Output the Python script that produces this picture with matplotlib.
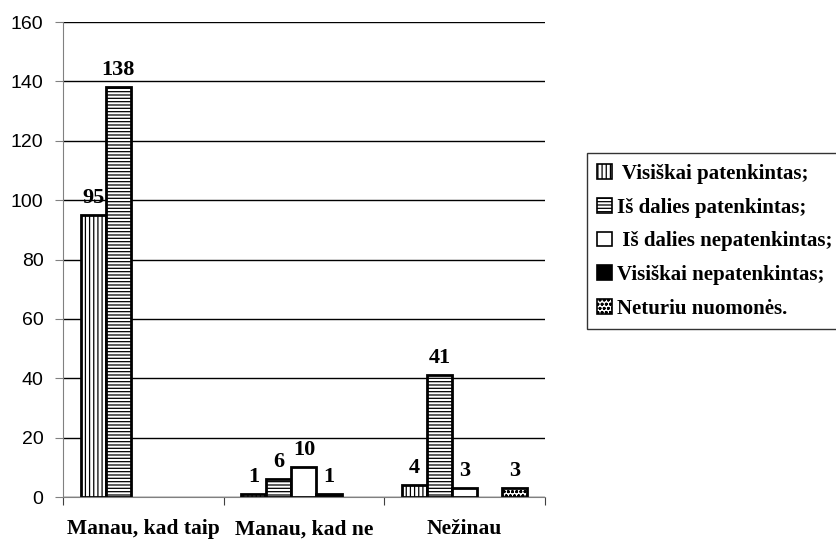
import numpy as np
import matplotlib
matplotlib.use("Agg")
import matplotlib.pyplot as plt
from matplotlib.patches import Patch

categories = ["Manau, kad taip", "Manau, kad ne", "Nežinau"]
series_names = [" Visiškai patenkintas;", "Iš dalies patenkintas;",
                " Iš dalies nepatenkintas;", "Visiškai nepatenkintas;",
                "Neturiu nuomonės."]
visiskai_patenkintas = [95, 1, 4]
is_dalies_patenkintas = [138, 6, 41]
is_dalies_nepatenkintas = [0, 10, 3]
visiskai_nepatenkintas = [0, 1, 0]
neturiu_nuomones = [0, 0, 3]

series = [visiskai_patenkintas, is_dalies_patenkintas, is_dalies_nepatenkintas,
          visiskai_nepatenkintas, neturiu_nuomones]
styles = [("white", "||||"), ("white", "-----"), ("white", ""),
          ("black", ""), ("white", "oooo")]

plt.rcParams["hatch.linewidth"] = 0.9
fig = plt.figure(figsize=(8.37, 5.4), dpi=100)
ax = fig.add_axes([0.0753, 0.0796, 0.5757, 0.8794])

x = np.arange(len(categories))
w = 0.156
handles = []
for i, (vals, name, (fc, hatch)) in enumerate(zip(series, series_names, styles)):
    pos = x - 2 * w + i * w
    bars = ax.bar(pos, vals, w, facecolor=fc, edgecolor="black", hatch=hatch,
                  linewidth=2)
    handles.append(Patch(facecolor=fc, edgecolor="black", hatch=hatch,
                         linewidth=1.2, label=name))
    for b, p, v in zip(bars, pos, vals):
        if v:
            ax.text(p, v + 2.5, str(v), ha="center", va="bottom",
                    family="Liberation Serif", fontweight="bold", fontsize=16)
        else:
            b.set_visible(False)  # zero bars are not drawn in the original

ax.set_xlim(-0.5, 2.5)
ax.set_ylim(0, 160)
ax.set_yticks(range(0, 161, 20))
ax.yaxis.grid(True, color="black", linewidth=1)
ax.set_axisbelow(True)
for s in ["top", "right"]:
    ax.spines[s].set_visible(False)
ax.spines["left"].set_color("#808080")
ax.spines["bottom"].set_color("#808080")
ax.tick_params(axis="y", labelsize=14, length=6, color="#808080", pad=8)
for t in ax.get_yticklabels():
    t.set_family("Liberation Sans")

# group boundary ticks, category names in between
ax.set_xticks([-0.5, 0.5, 1.5, 2.5])
ax.set_xticklabels([])
ax.tick_params(axis="x", length=6, color="#404040")
ax.set_xticks(x, minor=True)
ax.set_xticklabels(categories, minor=True, family="Liberation Serif",
                   fontweight="bold", fontsize=15.5)
ax.tick_params(axis="x", which="minor", length=0, pad=16)

leg = fig.legend(handles=handles, loc="upper left",
                 bbox_to_anchor=(0.701, 0.716), frameon=True, fancybox=False,
                 edgecolor="black", handlelength=0.7, handleheight=0.7,
                 handletextpad=0.25, labelspacing=0.66, borderaxespad=0,
                 borderpad=0.5,
                 prop={"family": "Liberation Serif", "weight": "bold", "size": 15})
leg.get_frame().set_linewidth(1)

fig.savefig("out.png", dpi=100)
